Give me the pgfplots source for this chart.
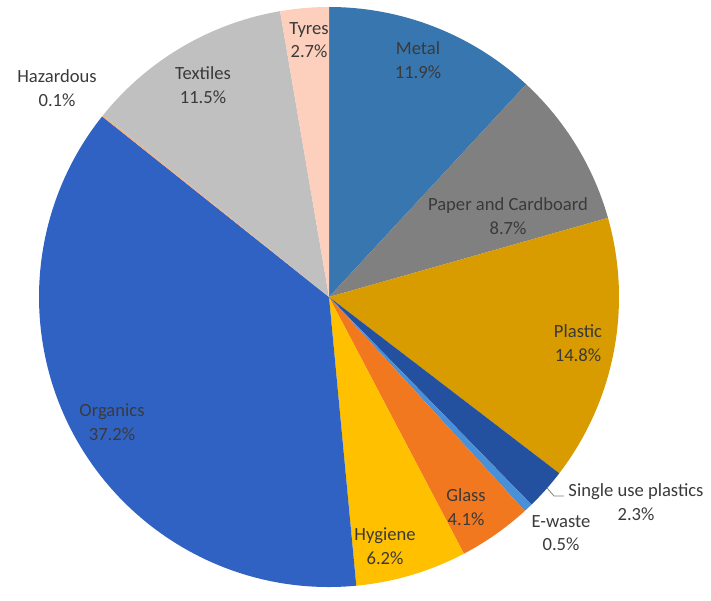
\documentclass[border=0pt]{standalone}
\usepackage{pgfplots}
\pgfplotsset{compat=1.18}
\usepackage{pgfplotstable}
\usepackage{fontspec}
\setmainfont{Carlito}
\definecolor{cMetal}{RGB}{56,118,176}
\definecolor{cPaper}{RGB}{128,128,128}
\definecolor{cPlastic}{RGB}{216,155,0}
\definecolor{cSingle}{RGB}{36,80,160}
\definecolor{cEwaste}{RGB}{74,144,217}
\definecolor{cGlass}{RGB}{242,120,32}
\definecolor{cHygiene}{RGB}{255,192,0}
\definecolor{cOrganics}{RGB}{48,98,196}
\definecolor{cHazard}{RGB}{244,177,131}
\definecolor{cTextiles}{RGB}{192,192,192}
\definecolor{cTyres}{RGB}{252,208,188}
\definecolor{txt}{RGB}{58,58,58}
\pgfplotstableread[col sep=comma]{
name,value,color
Metal,11.9,cMetal
Paper and Cardboard,8.7,cPaper
Plastic,14.8,cPlastic
Single use plastics,2.3,cSingle
E-waste,0.5,cEwaste
Glass,4.1,cGlass
Hygiene,6.2,cHygiene
Organics,37.2,cOrganics
Hazardous,0.1,cHazard
Textiles,11.5,cTextiles
Tyres,2.7,cTyres
}\piedata
\begin{document}
\begin{tikzpicture}
\begin{axis}[
  width=711pt, height=589pt, scale only axis,
  xmin=0, xmax=711, ymin=0, ymax=589,
  hide axis, clip=false,
]
\path (axis cs:0,0) rectangle (axis cs:711,589);
\pgfplotsextra{
  \pgfplotstablegetrowsof{\piedata}
  \pgfmathtruncatemacro\N{\pgfplotsretval-1}
  \gdef\cum{0}
  \foreach \i in {0,...,\N}{
    \pgfplotstablegetelem{\i}{value}\of\piedata \let\v\pgfplotsretval
    \pgfplotstablegetelem{\i}{color}\of\piedata \let\c\pgfplotsretval
    \pgfmathsetmacro\a{90-3.6*\cum}
    \pgfmathsetmacro\b{90-3.6*(\cum+\v)}
    \fill[\c] (axis cs:329,292) -- ++(\a:290pt) arc[start angle=\a, end angle=\b, radius=290pt] -- cycle;
    \pgfmathsetmacro\newcum{\cum+\v}
    \global\let\cum\newcum
  }
}
\draw[gray, line width=0.8pt] (axis cs:547,101) -- (axis cs:554,93) -- (axis cs:564,93);
\begin{scope}[every node/.style={text=txt, align=center, font=\fontsize{18.6}{23.5}\selectfont, inner sep=0pt}]
\node at (axis cs:418,529) {Metal\\11.9\%};
\node at (axis cs:508,373) {Paper and Cardboard\\8.7\%};
\node at (axis cs:578,246) {Plastic\\14.8\%};
\node at (axis cs:636,87) {Single use plastics\\2.3\%};
\node at (axis cs:561,56) {E-waste\\0.5\%};
\node at (axis cs:466,82) {Glass\\4.1\%};
\node at (axis cs:385,43) {Hygiene\\6.2\%};
\node at (axis cs:112,167) {Organics\\37.2\%};
\node at (axis cs:57,501) {Hazardous\\0.1\%};
\node at (axis cs:203,504) {Textiles\\11.5\%};
\node at (axis cs:309,549) {Tyres\\2.7\%};
\end{scope}
\end{axis}
\end{tikzpicture}
\end{document}
